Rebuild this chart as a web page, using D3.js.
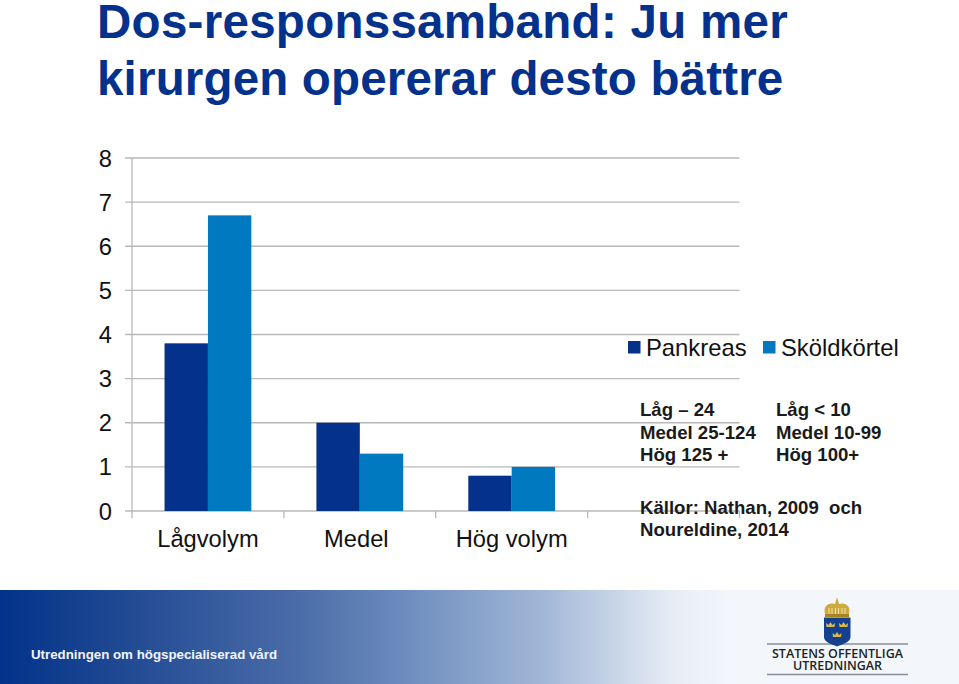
<!DOCTYPE html>
<html>
<head>
<meta charset="utf-8">
<script src="https://cdn.jsdelivr.net/npm/d3@7"></script>
<style>
  html, body { margin: 0; padding: 0; background: #fff; overflow: hidden; }
  text { font-family: "Liberation Sans", Arial, sans-serif; }
</style>
</head>
<body>
<div id="chart"></div>
<script>
const titleLines = ['Dos-responssamband: Ju mer', 'kirurgen opererar desto bättre']
const categories = ['Lågvolym', 'Medel', 'Hög volym', '']
const seriesNames = ['Pankreas', 'Sköldkörtel']
const pankreas = [3.8, 2, 0.8, null]
const skoldkortel = [6.7, 1.3, 1, null]
const yTicks = [0, 1, 2, 3, 4, 5, 6, 7, 8]
const volumeNotes = [
  ['Låg – 24', 'Medel 25-124', 'Hög 125 +'],
  ['Låg < 10', 'Medel 10-99', 'Hög 100+'],
]
const sourceLines = ['Källor: Nathan, 2009  och', 'Noureldine, 2014']
const footerText = 'Utredningen om högspecialiserad vård'
const logoLines = ['STATENS OFFENTLIGA', 'UTREDNINGAR']

const width = 959
const height = 684
const colors = ['#03318c', '#0079c1']
const gridColor = '#b8b8b8'

const svg = d3.select('#chart').append('svg')
  .attr('width', width).attr('height', height)
  .attr('viewBox', `0 0 ${width} ${height}`)
  .style('display', 'block')

// footer band first, the chart sits above it
const grad = svg.append('defs').append('linearGradient').attr('id', 'footerGrad')
grad.selectAll('stop')
  .data([[0, '#02328a'], [0.1, '#1a4490'], [0.31, '#4a6ca8'], [0.42, '#6c8cbd'], [0.57, '#a3b8d8'], [0.7, '#e6ecf5'], [0.76, '#f3f6fb'], [1, '#f3f6fb']])
  .join('stop')
  .attr('offset', d => d[0])
  .attr('stop-color', d => d[1])
svg.append('rect').attr('x', 0).attr('y', 590).attr('width', width).attr('height', 94).attr('fill', 'url(#footerGrad)')
svg.append('text').attr('x', 31).attr('y', 658.5).attr('fill', '#f2f6fc')
  .attr('font-size', 13.3).attr('font-weight', 'bold').text(footerText)

svg.append('g').selectAll('text').data(titleLines).join('text')
  .attr('x', 97).attr('y', (d, i) => 37.5 + i * 57.5)
  .attr('font-size', 47.5).attr('font-weight', 'bold').attr('fill', '#03318c')
  .attr('letter-spacing', (d, i) => i === 0 ? 0.28 : 0.18)
  .text(d => d)

const x = d3.scaleBand().domain(categories.map((d, i) => i)).range([132, 739.5])
const barBand = d3.scaleBand().domain([0, 1])
  .range([0, x.bandwidth()]).paddingOuter(0.75).paddingInner(0)
const y = d3.scaleLinear().domain([0, 8]).range([511, 158])

const grid = svg.append('g')
grid.selectAll('line').data(yTicks).join('line')
  .attr('x1', 125).attr('x2', 739.5)
  .attr('y1', d => y(d)).attr('y2', d => y(d))
  .attr('stroke', gridColor).attr('stroke-width', 1.3)
grid.append('line').attr('x1', 132).attr('x2', 132).attr('y1', y(8)).attr('y2', 518)
  .attr('stroke', gridColor).attr('stroke-width', 1.3)
grid.selectAll('line.tick').data(d3.range(1, categories.length + 1)).join('line').attr('class', 'tick')
  .attr('x1', d => 132 + d * x.step()).attr('x2', d => 132 + d * x.step())
  .attr('y1', 511).attr('y2', 518)
  .attr('stroke', gridColor).attr('stroke-width', 1.3)

svg.append('g').selectAll('text').data(yTicks).join('text')
  .attr('x', 112).attr('y', d => y(d) + 8.5)
  .attr('text-anchor', 'end').attr('font-size', 23.7).attr('fill', '#111')
  .text(d => d)

;[pankreas, skoldkortel].forEach((values, s) => {
  svg.append('g').selectAll('rect')
    .data(values.map((v, i) => ({ v, i })).filter(d => d.v !== null))
    .join('rect')
    .attr('x', d => x(d.i) + barBand(s))
    .attr('y', d => y(d.v))
    .attr('width', barBand.bandwidth())
    .attr('height', d => y(0) - y(d.v))
    .attr('fill', colors[s])
})

svg.append('g').selectAll('text').data(categories).join('text')
  .attr('x', (d, i) => x(i) + x.bandwidth() / 2)
  .attr('dx', (d, i) => i === 1 ? -3.5 : 0) // Medel sits a little left of its band
  .attr('y', 547)
  .attr('text-anchor', 'middle').attr('font-size', 23.7).attr('fill', '#111')
  .text(d => d)

const legendX = [628, 763]
seriesNames.forEach((name, i) => {
  svg.append('rect').attr('x', legendX[i]).attr('y', 341).attr('width', 12.5).attr('height', 12.5).attr('fill', colors[i])
  svg.append('text').attr('x', legendX[i] + 18).attr('y', 356)
    .attr('font-size', 23.8).attr('fill', '#111').text(name)
})

const noteX = [640, 776]
volumeNotes.forEach((lines, c) => {
  svg.append('g').selectAll('text').data(lines).join('text')
    .attr('x', noteX[c]).attr('y', (d, i) => 416 + i * 22.5)
    .attr('font-size', 18.6).attr('font-weight', 'bold').attr('fill', '#1a1a1a')
    .text(d => d)
})
svg.append('g').selectAll('text').data(sourceLines).join('text')
  .attr('x', 640).attr('y', (d, i) => 513.5 + i * 22)
  .attr('font-size', 18.6).attr('font-weight', 'bold').attr('fill', '#1a1a1a')
  .style('white-space', 'pre').attr('xml:space', 'preserve')
  .text(d => d)

// logo: rules, crown, shield with three crowns, wordmark
const logo = svg.append('g')
logo.selectAll('line').data([644, 674.5]).join('line')
  .attr('x1', 767).attr('x2', 908).attr('y1', d => d).attr('y2', d => d)
  .attr('stroke', '#8a8f96').attr('stroke-width', 1.5)
logo.append('path')
  .attr('d', 'M825.5 615 C822 606 829 602 835 604 L836 600.5 L837 597 L838 600.5 L839 604 C845 602 852 606 848.5 615 Z')
  .attr('fill', '#d0a93c')
logo.selectAll('path.arch').data([830.5, 837, 843.5]).join('path').attr('class', 'arch')
  .attr('d', d => `M${d - 1.5} 614 V608 M${d + 1.5} 614 V608`)
  .attr('stroke', '#f6f0d8').attr('stroke-width', 0.8).attr('fill', 'none')
logo.append('rect').attr('x', 825).attr('y', 614).attr('width', 24).attr('height', 3).attr('fill', '#a98420')
logo.append('path')
  .attr('d', 'M824 617.5 H850.5 V637 C850.5 642 843 644 837 646.5 C831 644 824 642 824 637 Z')
  .attr('fill', '#14408f')
const crownAt = [[830.5, 623], [843.5, 623], [837, 633]]
logo.selectAll('path.mini').data(crownAt).join('path').attr('class', 'mini')
  .attr('d', d => `M${d[0] - 4} ${d[1] + 4} L${d[0] - 4.5} ${d[1]} L${d[0] - 2} ${d[1] + 2} L${d[0]} ${d[1] - 1} L${d[0] + 2} ${d[1] + 2} L${d[0] + 4.5} ${d[1]} L${d[0] + 4} ${d[1] + 4} Z`)
  .attr('fill', '#d9b84a')
logo.selectAll('text').data(logoLines).join('text')
  .attr('x', 837.5).attr('y', (d, i) => 658 + i * 12)
  .attr('text-anchor', 'middle').attr('font-size', 12.5).attr('font-weight', 600).attr('fill', '#222')
  .style('font-family', '"Open Sans", sans-serif')
  .attr('textLength', (d, i) => i === 0 ? 131 : 89)
  .attr('lengthAdjust', 'spacingAndGlyphs')
  .text(d => d)
</script>
</body>
</html>
